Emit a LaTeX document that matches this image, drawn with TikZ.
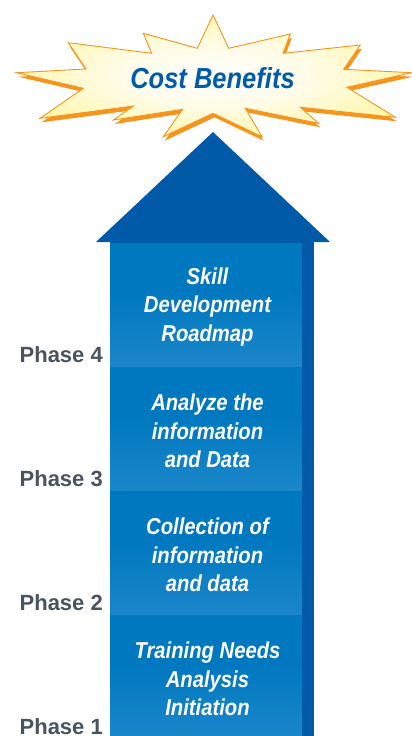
\documentclass[tikz,border=0pt]{standalone}
\usepackage{fontspec}
\newfontfamily\condfont[FakeStretch=0.88]{Liberation Sans}
\newfontfamily\phasefont{Liberation Sans}
\definecolor{arrowblue}{RGB}{0,90,168}
\definecolor{boxbase}{RGB}{0,120,192}
\definecolor{boxmid}{RGB}{30,136,202}
\definecolor{boxlight}{RGB}{88,164,218}
\definecolor{titleblue}{RGB}{0,91,170}
\definecolor{starorange}{RGB}{247,148,29}
\definecolor{staryellow}{RGB}{255,238,64}
\definecolor{starpale}{RGB}{255,247,170}
\definecolor{starcream}{RGB}{255,252,232}
\definecolor{phasegray}{RGB}{74,84,94}
\pgfdeclareverticalshading{boxshade}{100bp}{color(0bp)=(boxlight); color(22bp)=(boxmid); color(55bp)=(boxbase); color(100bp)=(boxbase)}
\pgfdeclareradialshading{starshade}{\pgfpoint{0bp}{0bp}}{color(0bp)=(white); color(12bp)=(starcream); color(27bp)=(starpale); color(40bp)=(staryellow); color(50bp)=(staryellow)}
\tikzset{
  phasebox/.style={shading=boxshade, minimum width=192pt, minimum height=124pt, inner sep=0pt},
  boxtext/.style={align=center, text=white, inner sep=0pt, font=\condfont\bfseries\itshape\fontsize{23}{28.5}\selectfont},
  phaselabel/.style={anchor=base east, inner sep=0pt, text=phasegray, font=\phasefont\bfseries\fontsize{22}{24}\selectfont},
}
\begin{document}
\begin{tikzpicture}[x=1pt,y=-1pt]
\useasboundingbox (0,0) rectangle (412,736);
% star
\def\starpath{(16.7,72.7) -- (86,69) -- (68.3,42.7) -- (151.7,53.3) -- (143.3,33.3) -- (197.3,48.3) -- (213,15) -- (228.7,48.3) -- (290.3,34) -- (283,53.3) -- (360.3,45) -- (343.7,69.3) -- (411.5,72.7) -- (347,87.3) -- (395.3,117.3) -- (300.3,107.3) -- (318.7,123.3) -- (245.3,108.3) -- (262,136.7) -- (213,113.3) -- (163.3,136.7) -- (182.7,109.3) -- (113.3,120) -- (133.3,106) -- (40,118.3) -- (83.3,88.3) -- cycle}
\fill[starorange, shift={(1.5,4)}] \starpath;
\draw[starorange, line width=0.9pt, shading=starshade] \starpath;
% arrow
\fill[arrowblue] (110,240) rectangle (314,736);
\fill[arrowblue] (96,242) -- (213,132) -- (330,242) -- cycle;
\node[font=\condfont\bfseries\itshape\fontsize{29}{32}\selectfont, text=titleblue, inner sep=0pt, anchor=base] (title) at (212.5,88) {Cost Benefits};
% boxes
\node[phasebox] (b4) at (206,305) {};
\node[phasebox] (b3) at (206,429) {};
\node[phasebox] (b2) at (206,553) {};
\node[phasebox] (b1) at (206,677) {};
\node[boxtext] (t4) at ([shift={(1.5,2)}]b4.center) {Skill\\Development\\Roadmap};
\node[boxtext] (t3) at ([shift={(1.5,2)}]b3.center) {Analyze the\\information\\and Data};
\node[boxtext] (t2) at ([shift={(1.5,2)}]b2.center) {Collection of\\information\\and data};
\node[boxtext] (t1) at ([shift={(1.5,2)}]b1.center) {Training Needs\\Analysis\\Initiation};
% phase labels
\node[phaselabel] (p4) at (103,362) {Phase 4};
\node[phaselabel] (p3) at (103,486) {Phase 3};
\node[phaselabel] (p2) at (103,610) {Phase 2};
\node[phaselabel] (p1) at (103,734) {Phase 1};
\end{tikzpicture}
\end{document}
